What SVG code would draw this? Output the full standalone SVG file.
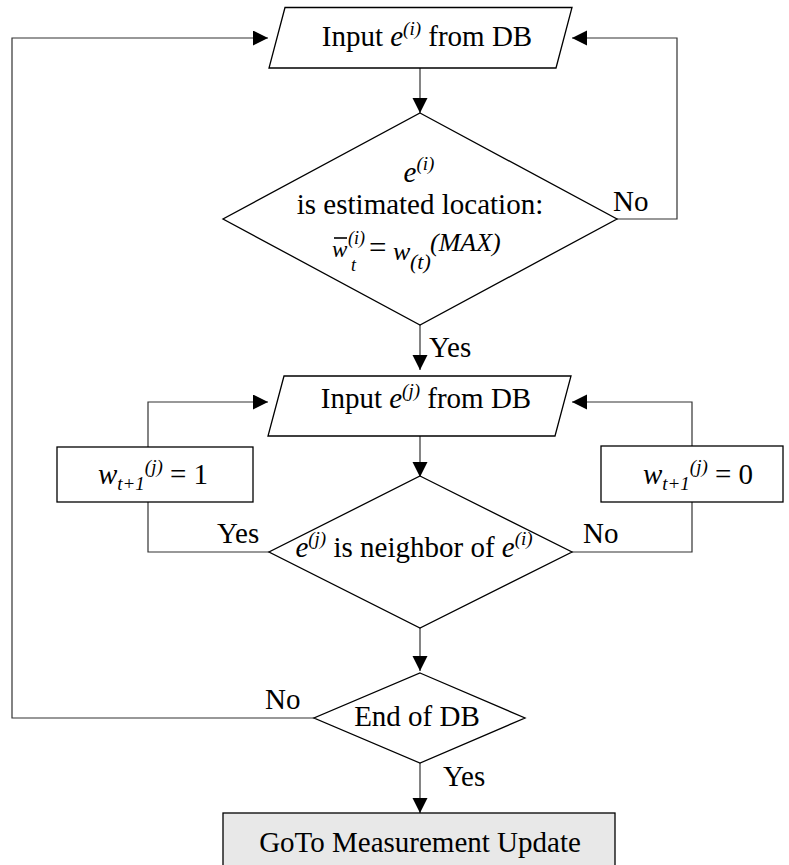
<svg xmlns="http://www.w3.org/2000/svg" width="789" height="865" viewBox="0 0 789 865">
<style>
.shape{fill:#fff;stroke:#000;stroke-width:1.3}
.gray{fill:#e8e8e8;stroke:#000;stroke-width:1.3}
.conn{fill:none;stroke:#333;stroke-width:1.2}
text{font-family:'Liberation Serif','DejaVu Serif',serif;font-size:29px;fill:#000}
.it{font-style:italic}
.sm{font-size:19px}
</style>
<defs>
<marker id="ah" markerUnits="userSpaceOnUse" markerWidth="16" markerHeight="16" refX="15" refY="7.5" orient="auto">
<path d="M0,0 L15,7.5 L0,15 z" fill="#000"/>
</marker>
</defs>
<rect width="789" height="865" fill="#fff"/>
<g id="connectors">
<polyline class="conn" points="314,718 12,718 12,38 268,38" marker-end="url(#ah)"/>
<polyline class="conn" points="617,219 677,219 677,38 572,38" marker-end="url(#ah)"/>
<line class="conn" x1="420" y1="68" x2="420" y2="113" marker-end="url(#ah)"/>
<line class="conn" x1="420" y1="325" x2="420" y2="370" marker-end="url(#ah)"/>
<line class="conn" x1="420" y1="436" x2="420" y2="477" marker-end="url(#ah)"/>
<polyline class="conn" points="269,552 148,552 148,502"/>
<polyline class="conn" points="148,447 148,402 268,402" marker-end="url(#ah)"/>
<polyline class="conn" points="571,552 692,552 692,502"/>
<polyline class="conn" points="692,446 692,402 572,402" marker-end="url(#ah)"/>
<line class="conn" x1="420" y1="628" x2="420" y2="671" marker-end="url(#ah)"/>
<line class="conn" x1="420" y1="763" x2="420" y2="813" marker-end="url(#ah)"/>
</g>
<g id="labels">
<text x="613" y="211">No</text>
<text x="429" y="357">Yes</text>
<text x="217" y="543">Yes</text>
<text x="583" y="543">No</text>
<text x="265" y="709">No</text>
<text x="443" y="786">Yes</text>
</g>
<g id="input-i">
<polygon class="shape" points="285,7.5 572,7.5 556,68 269,68"/>
<text x="427" y="46" text-anchor="middle">Input <tspan class="it">e</tspan><tspan class="it sm" dy="-11">(i)</tspan><tspan dy="11"> from DB</tspan></text>
</g>
<g id="decision-estimated">
<polygon class="shape" points="420,113 617,219 420,325 223,219"/>
<text x="419" y="182" text-anchor="middle"><tspan class="it">e</tspan><tspan class="it sm" dy="-12">(i)</tspan></text>
<text x="420" y="214" text-anchor="middle">is estimated location:</text>
<line x1="334" y1="238" x2="347" y2="238" stroke="#000" stroke-width="1.6"/>
<text class="it"><tspan x="332" y="257" font-size="23">w</tspan><tspan x="348" y="244" font-size="18">(i)</tspan><tspan x="351" y="271" font-size="18">t</tspan><tspan x="369" y="258" font-style="normal" font-size="31">=</tspan><tspan x="393" y="260" font-size="26">w</tspan><tspan x="410" y="269" font-size="22">(t)</tspan><tspan x="430" y="251" font-size="26">(MAX)</tspan></text>
</g>
<g id="input-j">
<polygon class="shape" points="284,376 571,376 555,436 268,436"/>
<text x="426" y="408" text-anchor="middle">Input <tspan class="it">e</tspan><tspan class="it sm" dy="-11">(j)</tspan><tspan dy="11"> from DB</tspan></text>
</g>
<g id="set-one">
<rect class="shape" x="57" y="447" width="196" height="55"/>
<text x="153" y="484" text-anchor="middle"><tspan class="it">w</tspan><tspan class="it sm" dy="6">t+1</tspan><tspan class="it sm" dy="-17">(j)</tspan><tspan dy="11"> = 1</tspan></text>
</g>
<g id="set-zero">
<rect class="shape" x="601" y="446" width="182" height="56"/>
<text x="698" y="484" text-anchor="middle"><tspan class="it">w</tspan><tspan class="it sm" dy="6">t+1</tspan><tspan class="it sm" dy="-17">(j)</tspan><tspan dy="11"> = 0</tspan></text>
</g>
<g id="decision-neighbor">
<polygon class="shape" points="420,476 572,552 420,628 269,552"/>
<text x="414" y="557" text-anchor="middle"><tspan class="it">e</tspan><tspan class="it sm" dy="-12">(j)</tspan><tspan dy="12"> is neighbor of </tspan><tspan class="it">e</tspan><tspan class="it sm" dy="-12">(i)</tspan></text>
</g>
<g id="decision-end">
<polygon class="shape" points="420,673 525,718 420,763 314,718"/>
<text x="417" y="726" text-anchor="middle">End of DB</text>
</g>
<g id="goto">
<rect class="gray" x="223" y="813" width="392" height="60"/>
<text x="420" y="852" text-anchor="middle">GoTo Measurement Update</text>
</g>
</svg>
